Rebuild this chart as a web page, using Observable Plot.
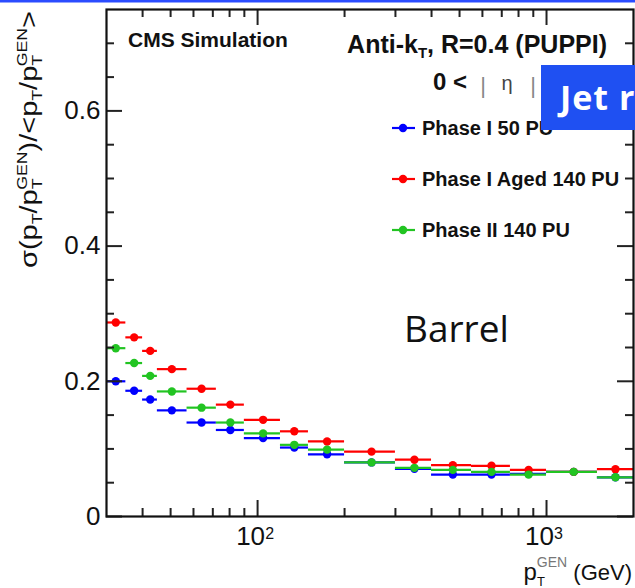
<!DOCTYPE html>
<html><head><meta charset="utf-8">
<script src="https://cdn.jsdelivr.net/npm/d3@7"></script>
<script src="https://cdn.jsdelivr.net/npm/@observablehq/plot@0.6"></script>
<style>html,body{margin:0;padding:0;background:#fff} #chart svg{display:block}</style>
</head><body><div id="chart"></div>
<script>
// pT^GEN bins (GeV)
const binLow    = [30, 35, 40, 45, 57, 72, 90, 120, 150, 200, 300, 400, 550, 750, 1000, 1500];
const binHigh   = [35, 40, 45, 57, 72, 90, 120, 150, 200, 300, 400, 550, 750, 1000, 1500, 2000];
const binCenter = [32.3, 37.4, 42.5, 50.5, 64, 80.5, 104.5, 134, 174, 248, 349, 474, 645, 867, 1242, 1732];
// resolution per series
const phase1_50PU      = [0.200, 0.186, 0.173, 0.157, 0.139, 0.128, 0.116, 0.102, 0.092, 0.080, 0.0705, 0.062, 0.062, 0.063, 0.066, 0.058];
const phase1aged_140PU = [0.287, 0.265, 0.245, 0.218, 0.189, 0.1655, 0.143, 0.126, 0.111, 0.096, 0.084, 0.076, 0.075, 0.069, 0.066, 0.070];
const phase2_140PU     = [0.249, 0.227, 0.208, 0.185, 0.161, 0.139, 0.123, 0.106, 0.099, 0.080, 0.072, 0.069, 0.066, 0.062, 0.066, 0.058];
const seriesNames  = ["Phase I 50 PU", "Phase I Aged 140 PU", "Phase II 140 PU"];
const seriesColors = ["#0000ff", "#ff0000", "#22c422"];
const seriesValues = [phase1_50PU, phase1aged_140PU, phase2_140PU];
// axis ticks
const yMajorTicks = [0, 0.2, 0.4, 0.6];
const yMinorTicks = [0.05, 0.1, 0.15, 0.25, 0.3, 0.35, 0.45, 0.5, 0.55, 0.65, 0.7];
const xMajorTicks = [100, 1000];
const xMajorExponents = ["2", "3"];
const xMinorTicks = [40, 50, 60, 70, 80, 90, 200, 300, 400, 500, 600, 700, 800, 900];

const W = 635, H = 588;
const mL = 106, mR = 2, mT = 9, mB = 72;
const plotW = W - mL - mR, plotH = H - mT - mB;
const FONT = "Liberation Sans, Arial, Helvetica, sans-serif";

const series = seriesNames.map((name, s) => binCenter.map((c, i) => ({
  name, c, lo: binLow[i], hi: binHigh[i], v: seriesValues[s][i]
})));

const dataMarks = [];
for (let s = 0; s < 3; s++) {
  dataMarks.push(Plot.ruleY(series[s], {y: "v", x1: "lo", x2: "hi", stroke: seriesColors[s], strokeWidth: 2.2}));
  dataMarks.push(Plot.dot(series[s], {x: "c", y: "v", r: 4.2, fill: seriesColors[s], stroke: "none"}));
}

const tickStroke = "#222";
const chart = Plot.plot({
  width: W, height: H,
  marginLeft: mL, marginRight: mR, marginTop: mT, marginBottom: mB,
  style: {fontFamily: FONT, background: "#fff", color: "#111"},
  x: {type: "log", domain: [30, 2000], axis: null},
  y: {domain: [0, 0.75], axis: null},
  marks: [
    ...dataMarks,
    // bottom & top x ticks (inward)
    Plot.tickX(xMajorTicks, {x: d => d, insetTop: plotH - 16, stroke: tickStroke, strokeWidth: 2}),
    Plot.tickX(xMinorTicks, {x: d => d, insetTop: plotH - 8, stroke: tickStroke, strokeWidth: 2}),
    Plot.tickX(xMajorTicks, {x: d => d, insetBottom: plotH - 16, stroke: tickStroke, strokeWidth: 2}),
    Plot.tickX(xMinorTicks, {x: d => d, insetBottom: plotH - 8, stroke: tickStroke, strokeWidth: 2}),
    // left & right y ticks (inward)
    Plot.tickY(yMajorTicks, {y: d => d, insetRight: plotW - 16, stroke: tickStroke, strokeWidth: 2}),
    Plot.tickY(yMinorTicks, {y: d => d, insetRight: plotW - 8, stroke: tickStroke, strokeWidth: 2}),
    Plot.tickY(yMajorTicks, {y: d => d, insetLeft: plotW - 16, stroke: tickStroke, strokeWidth: 2}),
    Plot.tickY(yMinorTicks, {y: d => d, insetLeft: plotW - 8, stroke: tickStroke, strokeWidth: 2}),
    Plot.frame({stroke: "#111", strokeWidth: 2.2}),
    // tick labels
    Plot.text(yMajorTicks, {y: d => d, frameAnchor: "left", textAnchor: "end", dx: -6, text: d => String(d), fontSize: 26, fill: "#111"}),
    Plot.text(xMajorTicks, {x: d => d, frameAnchor: "bottom", dx: -7, dy: 28, text: () => "10", fontSize: 26, fill: "#111"}),
    Plot.text(xMajorTicks, {x: d => d, frameAnchor: "bottom", dx: 12, dy: 22, text: (d, i) => xMajorExponents[i], fontSize: 16, fill: "#111"})
  ]
});
document.getElementById("chart").appendChild(chart);

// ---- annotations ----
const svg = d3.select(chart);
const ann = svg.append("g").attr("font-family", FONT).attr("fill", "#111").attr("text-anchor", "start");

function richText(g, x, y, parts, opts = {}) {
  const t = g.append("text").attr("x", x).attr("y", y).attr("text-anchor", opts.anchor || "start");
  if (opts.transform) t.attr("transform", opts.transform).attr("x", 0).attr("y", 0);
  if (opts.weight) t.attr("font-weight", opts.weight);
  if (opts.textLength) t.attr("textLength", opts.textLength).attr("lengthAdjust", "spacingAndGlyphs");
  parts.forEach(p => {
    const ts = t.append("tspan").text(p.t).attr("font-size", p.size);
    if (p.dy) ts.attr("dy", p.dy);
    if (p.dx) ts.attr("dx", p.dx);
    if (p.fill) ts.attr("fill", p.fill);
    if (p.weight) ts.attr("font-weight", p.weight);
  });
  return t;
}

// top blue border
ann.append("rect").attr("x", 0).attr("y", 0).attr("width", W).attr("height", 2.5).attr("fill", "#2b4cff");

// CMS Simulation
ann.append("text").attr("x", 128).attr("y", 47).attr("font-size", 21).attr("font-weight", "bold").text("CMS Simulation");

// Anti-kT line
richText(ann, 607, 53, [
  {t: "Anti-k", size: 25},
  {t: "T", size: 15, dy: 5},
  {t: ", R=0.4 (PUPPI)", size: 25, dy: -5}
], {anchor: "end", weight: "bold"});

// eta line
ann.append("text").attr("x", 433).attr("y", 90).attr("font-size", 24).attr("font-weight", "bold").text("0 <");
ann.append("text").attr("x", 483).attr("y", 93).attr("font-size", 22).attr("fill", "#888").attr("text-anchor", "middle").text("|");
ann.append("text").attr("x", 507).attr("y", 90).attr("font-size", 20).attr("fill", "#444").attr("text-anchor", "middle").text("η");
ann.append("text").attr("x", 533).attr("y", 93).attr("font-size", 22).attr("fill", "#888").attr("text-anchor", "middle").text("|");

// Legend
const legY = [128, 179, 230];
seriesNames.forEach((name, i) => {
  const y = legY[i];
  ann.append("line").attr("x1", 392).attr("x2", 415).attr("y1", y).attr("y2", y)
    .attr("stroke", seriesColors[i]).attr("stroke-width", 2.2);
  ann.append("circle").attr("cx", 403).attr("cy", y).attr("r", 4.2).attr("fill", seriesColors[i]);
  ann.append("text").attr("x", 422).attr("y", y).attr("dy", "0.36em").attr("font-size", 20)
    .attr("font-weight", "bold").text(name);
});

// blue overlay box "Jet r"
ann.append("rect").attr("x", 541).attr("y", 65).attr("width", W - 541).attr("height", 65).attr("fill", "#1f50f2");
ann.append("text").attr("x", 560).attr("y", 110).attr("font-size", 34).attr("font-weight", "bold")
  .attr("letter-spacing", 1).attr("font-family", "Open Sans, sans-serif").attr("fill", "#fff").text("Jet r");

// Barrel
ann.append("text").attr("x", 404).attr("y", 342).attr("font-size", 37)
  .attr("font-family", "Open Sans, sans-serif").attr("fill", "#111").text("Barrel");

// y axis title
richText(ann, 0, 0, [
  {t: "σ(p", size: 23},
  {t: "T", size: 14, dy: 5},
  {t: "/p", size: 23, dy: -5},
  {t: "T", size: 14, dy: 5},
  {t: "GEN", size: 14, dy: -15, dx: -9},
  {t: ")/<p", size: 23, dy: 10},
  {t: "T", size: 14, dy: 5},
  {t: "/p", size: 23, dy: -5},
  {t: "T", size: 14, dy: 5},
  {t: "GEN", size: 14, dy: -15, dx: -9},
  {t: ">", size: 23, dy: 10}
], {transform: "translate(37,268) rotate(-90)", textLength: 257});

// x axis title
richText(ann, 632, 580, [
  {t: "p", size: 24},
  {t: "T", size: 13, dy: 6},
  {t: "GEN", size: 14, dy: -19, dx: -8, fill: "#777"},
  {t: " (GeV)", size: 22, dy: 13}
], {anchor: "end"});
</script>
</body></html>
